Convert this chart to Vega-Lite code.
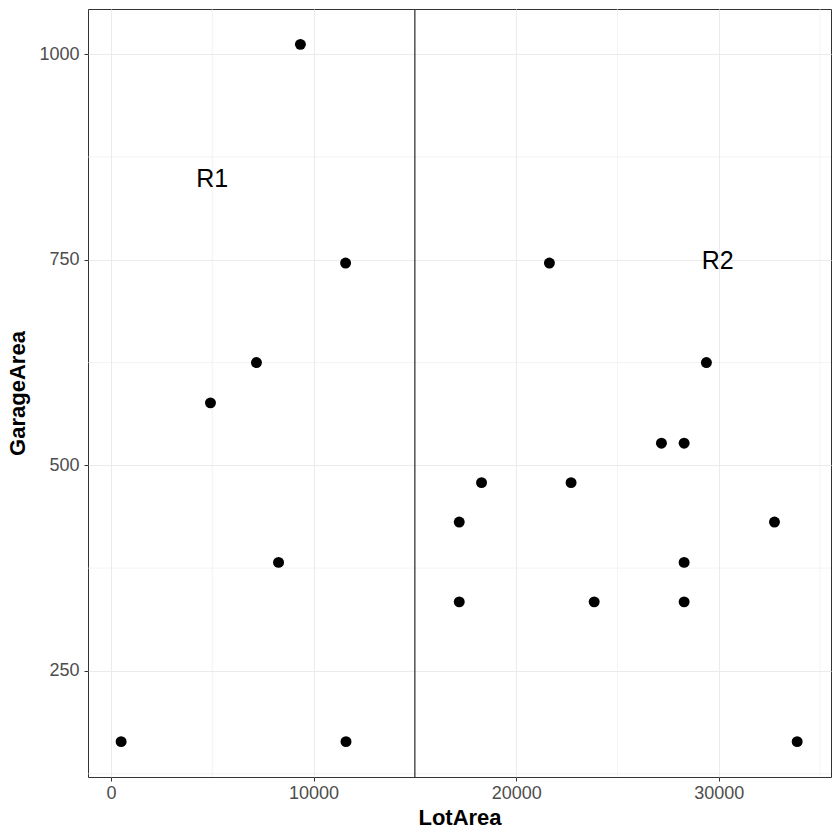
{
  "$schema": "https://vega.github.io/schema/vega-lite/v6.json",
  "width": 743,
  "height": 768,
  "autosize": {"type": "none"},
  "padding": {"left": 88, "top": 9, "right": 9, "bottom": 63},
  "background": "white",
  "config": {
    "view": {"stroke": "#333333", "strokeWidth": 1},
    "font": "Liberation Sans",
    "axis": {
      "domain": false,
      "grid": true,
      "gridColor": "#EBEBEB",
      "gridWidth": 1,
      "tickColor": "#333333",
      "tickSize": 4,
      "labelColor": "#4D4D4D",
      "labelFontSize": 18,
      "labelFont": "Liberation Sans",
      "titleFont": "Liberation Sans",
      "titleFontSize": 22,
      "titleFontWeight": "bold",
      "titleColor": "#000000"
    }
  },
  "datasets": {
    "pts": [
      {"LotArea": 500, "GarageArea": 164},
      {"LotArea": 11600, "GarageArea": 164},
      {"LotArea": 9350, "GarageArea": 1012},
      {"LotArea": 11580, "GarageArea": 746},
      {"LotArea": 7180, "GarageArea": 625},
      {"LotArea": 4910, "GarageArea": 576},
      {"LotArea": 8270, "GarageArea": 382},
      {"LotArea": 17190, "GarageArea": 431},
      {"LotArea": 17190, "GarageArea": 334},
      {"LotArea": 18290, "GarageArea": 479},
      {"LotArea": 21640, "GarageArea": 746},
      {"LotArea": 22710, "GarageArea": 479},
      {"LotArea": 23850, "GarageArea": 334},
      {"LotArea": 27170, "GarageArea": 527},
      {"LotArea": 28290, "GarageArea": 527},
      {"LotArea": 28290, "GarageArea": 382},
      {"LotArea": 28290, "GarageArea": 334},
      {"LotArea": 29390, "GarageArea": 625},
      {"LotArea": 32750, "GarageArea": 431},
      {"LotArea": 33870, "GarageArea": 164}
    ],
    "minorx": [{"v": 5000}, {"v": 15000}, {"v": 25000}, {"v": 35000}],
    "minory": [{"v": 125}, {"v": 375}, {"v": 625}, {"v": 875}],
    "split": [{"v": 15000}],
    "labels": [
      {"LotArea": 5000, "GarageArea": 848, "label": "R1"},
      {"LotArea": 29950, "GarageArea": 748, "label": "R2"}
    ]
  },
  "layer": [
    {
      "data": {"name": "minorx"},
      "mark": {"type": "rule", "color": "#EBEBEB", "strokeWidth": 0.6},
      "encoding": {"x": {"field": "v", "type": "quantitative", "scale": {"domain": [-1135, 35540], "nice": false, "zero": false}}}
    },
    {
      "data": {"name": "minory"},
      "mark": {"type": "rule", "color": "#EBEBEB", "strokeWidth": 0.6},
      "encoding": {"y": {"field": "v", "type": "quantitative", "scale": {"domain": [121, 1055], "nice": false, "zero": false}}}
    },
    {
      "data": {"name": "split"},
      "mark": {"type": "rule", "color": "#000000", "strokeWidth": 1},
      "encoding": {"x": {"field": "v", "type": "quantitative"}}
    },
    {
      "data": {"name": "pts"},
      "mark": {"type": "circle", "color": "#000000", "opacity": 1, "size": 120},
      "encoding": {
        "x": {
          "field": "LotArea", "type": "quantitative",
          "scale": {"domain": [-1135, 35540], "nice": false, "zero": false},
          "axis": {"values": [0, 10000, 20000, 30000], "format": "d", "labelPadding": 3, "titlePadding": 5, "title": "LotArea"}
        },
        "y": {
          "field": "GarageArea", "type": "quantitative",
          "scale": {"domain": [121, 1055], "nice": false, "zero": false},
          "axis": {"values": [250, 500, 750, 1000], "format": "d", "labelPadding": 5, "titlePadding": 9, "title": "GarageArea"}
        }
      }
    },
    {
      "data": {"name": "labels"},
      "mark": {"type": "text", "fontSize": 25, "color": "#000000", "font": "Liberation Sans", "align": "center", "baseline": "middle"},
      "encoding": {
        "x": {"field": "LotArea", "type": "quantitative"},
        "y": {"field": "GarageArea", "type": "quantitative"},
        "text": {"field": "label"}
      }
    }
  ]
}
